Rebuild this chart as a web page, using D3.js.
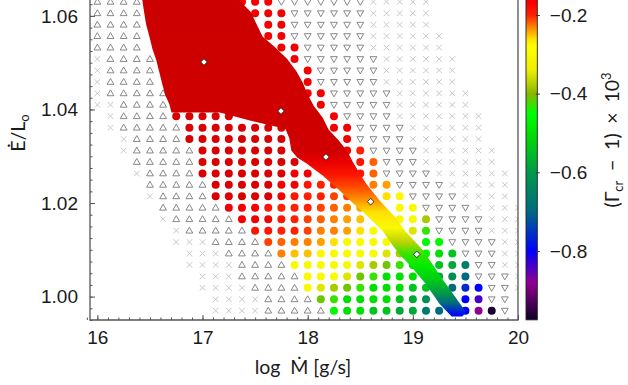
<!DOCTYPE html>
<html lang="en">
<head>
<meta charset="utf-8">
<title>Gamma_cr map</title>
<script src="https://d3js.org/d3.v7.min.js"></script>
<style>
  body { margin: 0; background: #fff; }
  svg { display: block; font-family: Lato, "Open Sans", "DejaVu Sans", sans-serif; }
</style>
</head>
<body>
<script>
// grid columns: log Mdot [g/s]
var logMdot = [16.0, 16.125, 16.25, 16.375, 16.5, 16.625, 16.75, 16.875,
  17.0, 17.125, 17.25, 17.375, 17.5, 17.625, 17.75, 17.875,
  18.0, 18.125, 18.25, 18.375, 18.5, 18.625, 18.75, 18.875,
  19.0, 19.125, 19.25, 19.375, 19.5, 19.625, 19.75, 19.875, 20.0];

// grid rows: Edot/Lo, top row first
var eDotRows = [1.06301, 1.06057, 1.05812, 1.05568, 1.05323, 1.05078, 1.04834,
  1.04589, 1.04345, 1.04100, 1.03856, 1.03611, 1.03367, 1.03122, 1.02878,
  1.02633, 1.02389, 1.02144, 1.01900, 1.01655, 1.01410, 1.01166, 1.00921,
  1.00677, 1.00432, 1.00188, 0.99943, 0.99699];

// one char per grid cell:  x = no solution, ^ / v = triangles,
// letters = circle with (Gamma_cr-1)e3 from gammaByCode, # = hidden under the band, . = nothing
var gridRows = [
  "^^^^#######BBBvvvvvvvxxxxx.......",
  "^^^^########BBBvvvvvvxxxxx.......",
  "^^^^#########BBvvvvvvxxxxx.......",
  "^^^^#########BBvvvvvvxxxxxx......",
  "^^^^##########BBvvvvvxxxxxx......",
  "x^^^^##########Bvvvvvvxxxxxx.....",
  "x^^^^###########Bvvvvvxxxxxx.....",
  "x^^^^###########Bvvvvvxxxxxx.....",
  "x^^^^^##########BBvvvvvxxxxxx....",
  "xx^^^^###########Bvvvvvxxxxxx....",
  ".x^^^^AAAAA#######Bvvvvxxxxxxx...",
  ".x^^^^^AAAAAAAA###BBvvvvxxxxxx...",
  "..x^^^^AAAAAAAA####Bvvvvxxxxxx...",
  "..x^^^^^AAAAAAA####BDvvvvxxxxxx..",
  "...^^^^^AAAAAAAA####CFvvvxxxxxx..",
  "...x^^^^AAAAAAABB###CFvvvvxxxxxx.",
  "....^^^^^AAAAABBCDD##GHvvvvxxxxx.",
  "....x^^^^AAAAABCDDEE##JKvvvvxxxx.",
  ".....^^^^^BBBCDDDEFGH##KKvvvvxxxx",
  ".....x^^^^^BBBCDEFGHI##KKMvvvvxxx",
  "......x^^^^^CCDDEGGHJK##LOvvvvxxx",
  "......xxx^^^^EFGGHJKKKK##PPvvvvxx",
  ".......xxx^^^^GIIKKKKKLM#PQRvvvxx",
  ".......xxxx^^^^KKKKKLMNOQ#RSUvvxx",
  "........xxx^^^^^KKKLNOQQQ#STVvvvx",
  "........xxxx^^^^KLMNOQQQRR#VWXvvx",
  ".........xxxx^^^^NOQQQQRST##XYvv.",
  ".........xxxx^^^^^PQQRRSSUV#XZ*v."
];

var gammaByCode = {A: -0.10, B: -0.16, C: -0.19, D: -0.20, E: -0.21, F: -0.22,
  G: -0.23, H: -0.24, I: -0.25, J: -0.26, K: -0.30, L: -0.35, M: -0.38,
  N: -0.41, O: -0.43, P: -0.46, Q: -0.50, R: -0.54, S: -0.58, T: -0.62,
  U: -0.66, V: -0.70, W: -0.76, X: -0.80, Y: -0.84, Z: -0.88, "*": -0.97};

// colour map
var cmapValues = [0.0, -0.10, -0.17, -0.20, -0.23, -0.26, -0.28, -0.34, -0.40,
  -0.45, -0.50, -0.60, -0.70, -0.80, -0.88, -0.975];
var cmapColors = ["#b00000", "#d80000", "#f80000", "#ff2000", "#ff8000", "#ffe000",
  "#ffff00", "#eeee00", "#88b800", "#00ff00", "#00e000", "#009a48", "#006a80",
  "#0000ff", "#900090", "#100028"];

// dense solution region (outline in log Mdot, Edot/Lo)
var blobOutline = [
  [16.434, 1.0647], [17.337, 1.0647], [17.337, 1.0634], [17.452, 1.0608],
  [17.509, 1.0581], [17.566, 1.0555], [17.689, 1.0531], [17.803, 1.0506],
  [17.889, 1.0480], [17.946, 1.0457], [17.994, 1.0431], [18.051, 1.0407],
  [18.136, 1.0382], [18.193, 1.0356], [18.288, 1.0333], [18.374, 1.0309],
  [18.421, 1.0288], [18.479, 1.0266], [18.555, 1.0239], [18.688, 1.0202],
  [18.830, 1.0168], [18.925, 1.0138], [19.068, 1.0104], [19.163, 1.0074],
  [19.277, 1.0036], [19.401, 0.9997], [19.496, 0.9967], [19.467, 0.9959],
  [19.372, 0.9959], [19.258, 0.9986], [19.125, 1.0029], [18.992, 1.0065],
  [18.897, 1.0087], [18.821, 1.0108], [18.716, 1.0142], [18.555, 1.0177],
  [18.431, 1.0202], [18.288, 1.0232], [18.136, 1.0262], [17.994, 1.0286],
  [17.908, 1.0298], [17.851, 1.0313], [17.832, 1.0339], [17.794, 1.0360],
  [17.623, 1.0369], [17.452, 1.0378], [17.318, 1.0386], [17.166, 1.0395],
  [16.710, 1.0395], [16.691, 1.0412], [16.653, 1.0431], [16.624, 1.0455],
  [16.596, 1.0480], [16.567, 1.0506], [16.529, 1.0531], [16.501, 1.0557],
  [16.472, 1.0581], [16.453, 1.0606], [16.434, 1.0634]
];
// colour along that region, by Edot/Lo
var bandE = [1.0647, 1.0313, 1.0288, 1.0260, 1.0232, 1.0207, 1.0181, 1.0147,
  1.0117, 1.0091, 1.0065, 1.0036, 1.0008, 0.9986, 0.9963];
var bandGamma = [-0.07, -0.08, -0.14, -0.19, -0.215, -0.235, -0.26, -0.30,
  -0.37, -0.43, -0.48, -0.53, -0.60, -0.70, -0.79];

var diamondM = [17.014, 17.746, 18.174, 18.599, 19.037];
var diamondE = [1.05015, 1.03967, 1.02984, 1.02029, 1.00904];

var xTicks = [16, 17, 18, 19, 20];
var yTicks = [1.00, 1.02, 1.04, 1.06];
var cbTicks = [-0.8, -0.6, -0.4, -0.2];

var w = 628, h = 385;
var left = 90, right = 518, bottom = 320;

var x = d3.scaleLinear().domain([15.93, 20]).range([left, right]);
var y = d3.scaleLinear().domain([0.995, 1.0634]).range([bottom, 0]);
var cmap = d3.scaleLinear().domain(cmapValues).range(cmapColors).clamp(true);

var svg = d3.select("body").append("svg").attr("width", w).attr("height", h);
var defs = svg.append("defs");

defs.append("clipPath").attr("id", "plotclip")
  .append("rect").attr("x", left).attr("y", -80)
  .attr("width", right - left).attr("height", bottom + 80);

var plot = svg.append("g").attr("clip-path", "url(#plotclip)");

// build cells from the grid
var cells = [];
gridRows.forEach(function(row, r) {
  for (var c = 0; c < logMdot.length; c++) {
    var ch = row.charAt(c);
    if (ch === "" || ch === "." || ch === "#") continue;
    cells.push({m: logMdot[c], e: eDotRows[r], kind: ch});
  }
});

var crosses = cells.filter(function(d) { return d.kind === "x"; });
var ups = cells.filter(function(d) { return d.kind === "^"; });
var downs = cells.filter(function(d) { return d.kind === "v"; });
var dots = cells.filter(function(d) { return gammaByCode[d.kind] !== undefined; });

plot.selectAll(".cross").data(crosses).enter().append("path")
  .attr("class", "cross")
  .attr("transform", function(d) { return "translate(" + x(d.m) + "," + y(d.e) + ")"; })
  .attr("d", "M-2.8,-2.8L2.8,2.8M-2.8,2.8L2.8,-2.8")
  .attr("stroke", "#c8c8c8").attr("stroke-width", 1).attr("fill", "none");

plot.selectAll(".up").data(ups).enter().append("path")
  .attr("class", "up")
  .attr("transform", function(d) { return "translate(" + x(d.m) + "," + y(d.e) + ")"; })
  .attr("d", "M0,-3.5L3.4,2.4L-3.4,2.4Z")
  .attr("stroke", "#7a7a7a").attr("stroke-width", 0.9).attr("fill", "none");

plot.selectAll(".down").data(downs).enter().append("path")
  .attr("class", "down")
  .attr("transform", function(d) { return "translate(" + x(d.m) + "," + y(d.e) + ")"; })
  .attr("d", "M0,3.5L3.4,-2.4L-3.4,-2.4Z")
  .attr("stroke", "#7a7a7a").attr("stroke-width", 0.9).attr("fill", "none");

plot.selectAll(".dot").data(dots).enter().append("circle")
  .attr("class", "dot")
  .attr("cx", function(d) { return x(d.m); })
  .attr("cy", function(d) { return y(d.e); })
  .attr("r", 4)
  .attr("fill", function(d) { return cmap(gammaByCode[d.kind]); });

// band gradient, vertical
var y0 = y(bandE[0]), y1 = y(bandE[bandE.length - 1]);
var bandGrad = defs.append("linearGradient").attr("id", "bandgrad")
  .attr("gradientUnits", "userSpaceOnUse")
  .attr("x1", 0).attr("x2", 0).attr("y1", y0).attr("y2", y1);
bandE.forEach(function(e, i) {
  bandGrad.append("stop")
    .attr("offset", (y(e) - y0) / (y1 - y0))
    .attr("stop-color", cmap(bandGamma[i]));
});

plot.append("path")
  .datum(blobOutline)
  .attr("d", d3.line().x(function(d) { return x(d[0]); }).y(function(d) { return y(d[1]); }).curve(d3.curveLinearClosed))
  .attr("fill", "url(#bandgrad)")
  .attr("stroke", "url(#bandgrad)")
  .attr("stroke-width", 1.5)
  .attr("stroke-linejoin", "round");

plot.selectAll(".diamond").data(diamondM).enter().append("path")
  .attr("class", "diamond")
  .attr("transform", function(d, i) { return "translate(" + x(d) + "," + y(diamondE[i]) + ")"; })
  .attr("d", "M0,-3.3L3.3,0L0,3.3L-3.3,0Z")
  .attr("fill", "#fff").attr("stroke", "#111").attr("stroke-width", 0.8);

// axes
var axisColor = "#555";

var xMinor = d3.range(159, 201).map(function(d) { return d / 10; });
var yMinor = d3.range(398, 426).map(function(d) { return d / 400; });

svg.append("g").attr("transform", "translate(0," + bottom + ")")
  .call(d3.axisBottom(x).tickValues(xMinor).tickSize(-2.5).tickFormat(""))
  .call(function(g) { g.select(".domain").remove(); g.selectAll("line").attr("stroke", axisColor); });

svg.append("g").attr("transform", "translate(0," + bottom + ")")
  .call(d3.axisBottom(x).tickValues(xTicks).tickSize(-5).tickPadding(11).tickFormat(d3.format("d")))
  .call(function(g) {
    g.select(".domain").remove();
    g.selectAll("line").attr("stroke", axisColor);
    g.selectAll("text").attr("font-size", 19).attr("fill", "#1a1a1a").attr("font-family", null);
  });

svg.append("g").attr("transform", "translate(" + left + ",0)")
  .call(d3.axisLeft(y).tickValues(yMinor).tickSize(-2.5).tickFormat(""))
  .call(function(g) { g.select(".domain").remove(); g.selectAll("line").attr("stroke", axisColor); });

svg.append("g").attr("transform", "translate(" + left + ",0)")
  .call(d3.axisLeft(y).tickValues(yTicks).tickSize(-5).tickPadding(12).tickFormat(d3.format(".2f")))
  .call(function(g) {
    g.select(".domain").remove();
    g.selectAll("line").attr("stroke", axisColor);
    g.selectAll("text").attr("font-size", 19).attr("fill", "#1a1a1a").attr("font-family", null);
  });

// frame
svg.append("path")
  .attr("d", "M" + left + ",-5V" + bottom + "H" + right + "V-5")
  .attr("fill", "none").attr("stroke", axisColor).attr("stroke-width", 1.3);

// axis titles
svg.append("text")
  .attr("x", (left + right) / 2 - 1).attr("y", 374)
  .attr("text-anchor", "middle").attr("font-size", 19.5).attr("fill", "#1a1a1a")
  .text("log\u2002\u1E40 [g/s]");

var yTitle = svg.append("text")
  .attr("transform", "translate(25,133) rotate(-90)")
  .attr("text-anchor", "middle").attr("font-size", 19.5).attr("fill", "#1a1a1a");
yTitle.append("tspan").text("\u0116/L");
yTitle.append("tspan").attr("font-size", 13).attr("dy", 4).text("o");

// colour bar
var cb = d3.scaleLinear().domain([-0.8, -0.2]).range([251, 15]);
var cbLeft = 526, cbWidth = 11.3;
var cbTop = cb(0), cbBottom = cb(-0.975);

var cbGrad = defs.append("linearGradient").attr("id", "cbgrad")
  .attr("gradientUnits", "userSpaceOnUse")
  .attr("x1", 0).attr("x2", 0).attr("y1", cbTop).attr("y2", cbBottom);
cmapValues.forEach(function(v, i) {
  cbGrad.append("stop")
    .attr("offset", (cb(v) - cbTop) / (cbBottom - cbTop))
    .attr("stop-color", cmapColors[i]);
});

svg.append("rect")
  .attr("x", cbLeft).attr("y", cbTop)
  .attr("width", cbWidth).attr("height", cbBottom - cbTop)
  .attr("fill", "url(#cbgrad)")
  .attr("stroke", "#222").attr("stroke-width", 0.9);

svg.append("g").attr("transform", "translate(" + (cbLeft + cbWidth - 1.5) + ",0)")
  .call(d3.axisRight(cb).tickValues(cbTicks).tickSize(4).tickPadding(10).tickFormat(d3.format(".1f")))
  .call(function(g) {
    g.select(".domain").remove();
    g.selectAll("line").attr("stroke", "#333");
    g.selectAll("text").attr("font-size", 19).attr("fill", "#1a1a1a").attr("font-family", null);
  });

var cbTitle = svg.append("text")
  .attr("transform", "translate(619,140) rotate(-90)")
  .attr("text-anchor", "middle").attr("font-size", 19.5).attr("fill", "#1a1a1a");
cbTitle.append("tspan").text("(\u0393");
cbTitle.append("tspan").attr("font-size", 13).attr("dy", 4).text("cr");
cbTitle.append("tspan").attr("dy", -4).text("\u2002\u2212\u20021)\u2002\u00D7\u200210");
cbTitle.append("tspan").attr("font-size", 13).attr("dy", -8).text("3");
</script>
</body>
</html>
